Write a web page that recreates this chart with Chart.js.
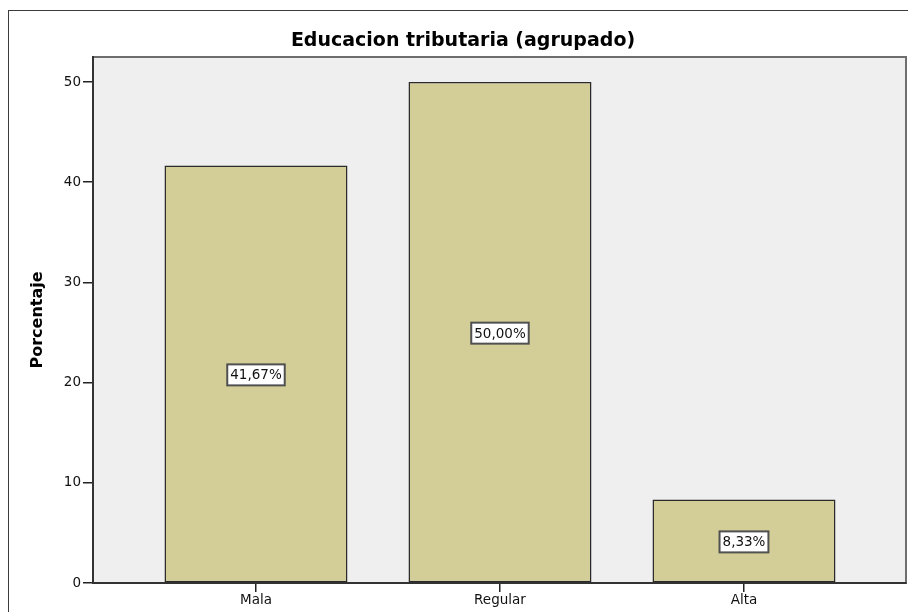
<!DOCTYPE html>
<html>
<head>
<meta charset="utf-8">
<script src="https://cdn.jsdelivr.net/npm/chart.js@4.4.0/dist/chart.umd.min.js"></script>
<style>
  html, body { margin: 0; padding: 0; background: #fff; }
  #grafik { display: block; }
</style>
</head>
<body>
<canvas id="grafik" width="908" height="612"></canvas>
<script>
// data dari gambar
const kategori = ['Mala', 'Regular', 'Alta'];
const porcentaje = [41.67, 50.00, 8.33];
const etiqueta = ['41,67%', '50,00%', '8,33%'];
const ticksY = [0, 10, 20, 30, 40, 50];

// bingkai luar + latar area plot
const bingkai = {
    id: 'bingkai',
    beforeDraw(chart) {
        const { ctx, chartArea: a } = chart;
        ctx.save();
        ctx.fillStyle = '#fff';
        ctx.fillRect(0, 0, chart.width, chart.height);
        ctx.strokeStyle = '#3c3c3c';
        ctx.lineWidth = 1;
        ctx.strokeRect(8.5, 10.5, chart.width + 20, chart.height + 20);
        ctx.fillStyle = '#efefef';
        ctx.fillRect(a.left, a.top, a.right - a.left, a.bottom - a.top);
        ctx.strokeStyle = '#6e6e6e';
        ctx.lineWidth = 2;
        ctx.strokeRect(a.left, a.top, a.right - a.left, a.bottom - a.top);
        ctx.restore();
    }
};

// label persen di tengah batang
const labelBatang = {
    id: 'labelBatang',
    afterDatasetsDraw(chart) {
        const ctx = chart.ctx;
        const meta = chart.getDatasetMeta(0);
        ctx.save();
        ctx.font = '13.5px "DejaVu Sans"';
        ctx.textAlign = 'center';
        ctx.textBaseline = 'middle';
        meta.data.forEach((bar, i) => {
            const cy = (bar.y + bar.base) / 2 + 1;
            const w = ctx.measureText(etiqueta[i]).width + 6;
            const h = 21;
            ctx.fillStyle = '#fff';
            ctx.fillRect(bar.x - w / 2, cy - h / 2, w, h);
            ctx.strokeStyle = '#505050';
            ctx.lineWidth = 2;
            ctx.strokeRect(bar.x - w / 2, cy - h / 2, w, h);
            ctx.fillStyle = '#111';
            ctx.fillText(etiqueta[i], bar.x, cy + 1);
        });
        ctx.restore();
    }
};

const ctx = document.getElementById('grafik').getContext('2d');

new Chart(ctx, {
    type: 'bar',
    data: {
        datasets: [{
            data: porcentaje.map((v, i) => ({ x: i, y: v })),
            backgroundColor: '#d3ce98',
            borderColor: '#2a2a2a',
            borderWidth: 1.5,
            borderSkipped: false,
            categoryPercentage: 1,
            barPercentage: 0.75
        }]
    },
    options: {
        responsive: false,
        animation: false,
        layout: { padding: { top: 0, left: 20, right: 2, bottom: 0 } },
        plugins: {
            legend: { display: false },
            tooltip: { enabled: false },
            title: {
                display: true,
                text: 'Educacion tributaria (agrupado)',
                color: '#000',
                font: { family: '"DejaVu Sans"', size: 19, weight: 'bold' },
                padding: { top: 30, bottom: 4.2 }
            }
        },
        scales: {
            x: {
                type: 'linear',
                offset: false,
                min: -0.668,
                max: 2.664,
                afterBuildTicks: (s) => { s.ticks = kategori.map((_, i) => ({ value: i })); },
                afterFit: (s) => { s.height = 29; },
                grid: { offset: false, drawOnChartArea: false, drawTicks: true, tickLength: 9, color: '#222', lineWidth: 1.5 },
                border: { display: true, color: '#333', width: 2 },
                ticks: {
                    padding: 0,
                    color: '#111',
                    font: { family: '"DejaVu Sans"', size: 13.5 },
                    callback: (v) => kategori[v]
                }
            },
            y: {
                min: 0,
                max: 52.5,
                afterBuildTicks: (s) => { s.ticks = ticksY.map(v => ({ value: v })); },
                afterFit: (s) => { s.width = 73; },
                grid: { drawOnChartArea: false, drawTicks: true, tickLength: 10, color: '#222', lineWidth: 1.5 },
                border: { display: true, color: '#333', width: 2 },
                ticks: {
                    padding: 2,
                    color: '#111',
                    font: { family: '"DejaVu Sans"', size: 13.5 }
                },
                title: {
                    display: true,
                    text: 'Porcentaje',
                    color: '#000',
                    font: { family: '"DejaVu Sans"', size: 16, weight: 'bold' },
                    padding: { top: 8, bottom: 0 }
                }
            }
        }
    },
    plugins: [bingkai, labelBatang]
});
</script>
</body>
</html>
